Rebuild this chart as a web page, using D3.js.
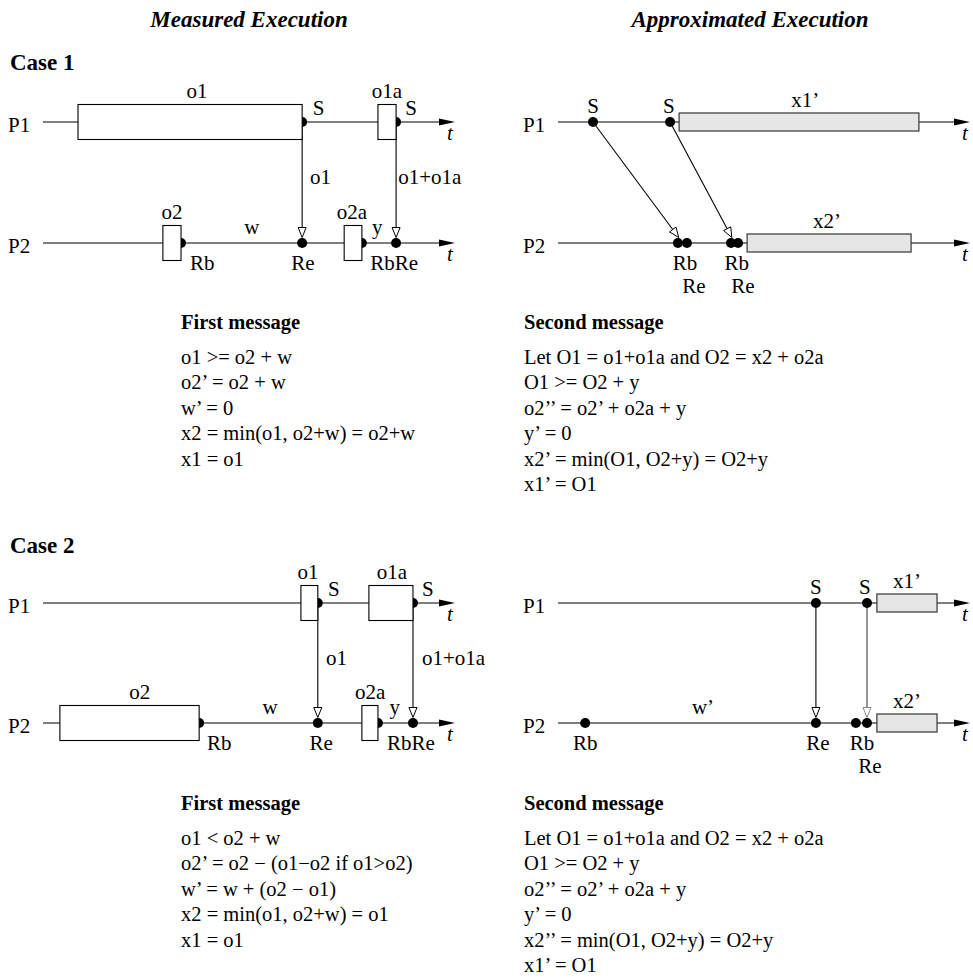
<!DOCTYPE html>
<html><head><meta charset="utf-8">
<script src="https://cdn.jsdelivr.net/npm/d3@7"></script>
<style>html,body{margin:0;padding:0;background:#fff;} svg{display:block;}</style>
</head><body>
<svg id="chart" width="973" height="978"></svg>
<script>
// ---------------- DATA ----------------
const processes = ["P1", "P2"];
const columnTitles = ["Measured Execution", "Approximated Execution"];
const caseTitles = ["Case 1", "Case 2"];

// operation blocks (time units 0..100 along each process axis)
const opBoxes = [
  {panel: "c1m", proc: "P1", start: 8.5,  end: 62.9},
  {panel: "c1m", proc: "P1", start: 81.3, end: 85.7},
  {panel: "c1m", proc: "P2", start: 29.1, end: 33.5},
  {panel: "c1m", proc: "P2", start: 73.1, end: 77.4},
  {panel: "c2m", proc: "P1", start: 62.6, end: 66.7},
  {panel: "c2m", proc: "P1", start: 79.1, end: 89.8},
  {panel: "c2m", proc: "P2", start: 4.1,  end: 37.9},
  {panel: "c2m", proc: "P2", start: 77.4, end: 81.3}
];
// computation blocks in the approximated execution
const computeBoxes = [
  {panel: "c1a", proc: "P1", start: 29.4, end: 87.6},
  {panel: "c1a", proc: "P2", start: 45.9, end: 85.7},
  {panel: "c2a", proc: "P1", start: 77.4, end: 92.0},
  {panel: "c2a", proc: "P2", start: 77.4, end: 92.0}
];
// send / receive events
const eventDots = [
  {panel: "c1m", proc: "P1", t: 62.9}, {panel: "c1m", proc: "P1", t: 85.7},
  {panel: "c1m", proc: "P2", t: 33.5}, {panel: "c1m", proc: "P2", t: 62.9},
  {panel: "c1m", proc: "P2", t: 77.4}, {panel: "c1m", proc: "P2", t: 85.7},
  {panel: "c1a", proc: "P1", t: 8.5},  {panel: "c1a", proc: "P1", t: 27.2},
  {panel: "c1a", proc: "P2", t: 29.1}, {panel: "c1a", proc: "P2", t: 31.3},
  {panel: "c1a", proc: "P2", t: 42.0}, {panel: "c1a", proc: "P2", t: 43.7},
  {panel: "c2m", proc: "P1", t: 66.7}, {panel: "c2m", proc: "P1", t: 89.8},
  {panel: "c2m", proc: "P2", t: 37.9}, {panel: "c2m", proc: "P2", t: 66.7},
  {panel: "c2m", proc: "P2", t: 81.3}, {panel: "c2m", proc: "P2", t: 89.8},
  {panel: "c2a", proc: "P1", t: 62.6}, {panel: "c2a", proc: "P1", t: 75.0},
  {panel: "c2a", proc: "P2", t: 6.6},  {panel: "c2a", proc: "P2", t: 62.6},
  {panel: "c2a", proc: "P2", t: 72.3}, {panel: "c2a", proc: "P2", t: 75.0}
];
// messages P1 -> P2 (send time, receive time)
const messages = [
  {panel: "c1m", from: 62.9, to: 62.9, tone: "black"},
  {panel: "c1m", from: 85.7, to: 85.7, tone: "black"},
  {panel: "c1a", from: 8.5,  to: 29.3, tone: "black"},
  {panel: "c1a", from: 27.2, to: 42.2, tone: "black"},
  {panel: "c2m", from: 66.7, to: 66.7, tone: "black"},
  {panel: "c2m", from: 89.8, to: 89.8, tone: "black"},
  {panel: "c2a", from: 62.6, to: 62.6, tone: "black"},
  {panel: "c2a", from: 75.0, to: 75.0, tone: "gray"}
];
// diagram labels: text, process, time anchor, placement kind
const labels = [
  // case 1 measured
  {panel: "c1m", proc: "P1", t: 37.4, text: "o1",     kind: "boxTop"},
  {panel: "c1m", proc: "P1", t: 83.5, text: "o1a",    kind: "boxTop"},
  {panel: "c1m", proc: "P1", t: 65.5, text: "S",      kind: "sAfter"},
  {panel: "c1m", proc: "P1", t: 87.9, text: "S",      kind: "sAfter"},
  {panel: "c1m", proc: "P1", t: 64.8, text: "o1",     kind: "msg"},
  {panel: "c1m", proc: "P1", t: 86.2, text: "o1+o1a", kind: "msg"},
  {panel: "c1m", proc: "P2", t: 31.3, text: "o2",     kind: "boxTop"},
  {panel: "c1m", proc: "P2", t: 75.0, text: "o2a",    kind: "boxTop"},
  {panel: "c1m", proc: "P2", t: 50.7, text: "w",      kind: "lineAbove"},
  {panel: "c1m", proc: "P2", t: 81.1, text: "y",      kind: "lineAbove"},
  {panel: "c1m", proc: "P2", t: 35.7, text: "Rb",     kind: "belowStart"},
  {panel: "c1m", proc: "P2", t: 63.1, text: "Re",     kind: "below"},
  {panel: "c1m", proc: "P2", t: 79.4, text: "RbRe",   kind: "belowStart"},
  // case 1 approximated
  {panel: "c1a", proc: "P1", t: 8.5,  text: "S",      kind: "sAbove"},
  {panel: "c1a", proc: "P1", t: 26.9, text: "S",      kind: "sAbove"},
  {panel: "c1a", proc: "P1", t: 60.0, text: "x1’",    kind: "compTop"},
  {panel: "c1a", proc: "P2", t: 65.3, text: "x2’",    kind: "compTop"},
  {panel: "c1a", proc: "P2", t: 30.8, text: "Rb",     kind: "below"},
  {panel: "c1a", proc: "P2", t: 33.0, text: "Re",     kind: "below2"},
  {panel: "c1a", proc: "P2", t: 43.4, text: "Rb",     kind: "below"},
  {panel: "c1a", proc: "P2", t: 44.9, text: "Re",     kind: "below2"},
  // case 2 measured
  {panel: "c2m", proc: "P1", t: 64.3, text: "o1",     kind: "boxTop"},
  {panel: "c2m", proc: "P1", t: 84.7, text: "o1a",    kind: "boxTop"},
  {panel: "c2m", proc: "P1", t: 69.2, text: "S",      kind: "sAfter"},
  {panel: "c2m", proc: "P1", t: 92.0, text: "S",      kind: "sAfter"},
  {panel: "c2m", proc: "P1", t: 68.7, text: "o1",     kind: "msg"},
  {panel: "c2m", proc: "P1", t: 92.0, text: "o1+o1a", kind: "msg"},
  {panel: "c2m", proc: "P2", t: 23.5, text: "o2",     kind: "boxTop"},
  {panel: "c2m", proc: "P2", t: 79.4, text: "o2a",    kind: "boxTop"},
  {panel: "c2m", proc: "P2", t: 55.1, text: "w",      kind: "lineAbove"},
  {panel: "c2m", proc: "P2", t: 85.4, text: "y",      kind: "lineAbove"},
  {panel: "c2m", proc: "P2", t: 39.8, text: "Rb",     kind: "belowStart"},
  {panel: "c2m", proc: "P2", t: 67.5, text: "Re",     kind: "below"},
  {panel: "c2m", proc: "P2", t: 83.5, text: "RbRe",   kind: "belowStart"},
  // case 2 approximated
  {panel: "c2a", proc: "P1", t: 62.6, text: "S",      kind: "sAbove"},
  {panel: "c2a", proc: "P1", t: 74.5, text: "S",      kind: "sAbove"},
  {panel: "c2a", proc: "P1", t: 84.7, text: "x1’",    kind: "compTop"},
  {panel: "c2a", proc: "P2", t: 84.7, text: "x2’",    kind: "compTop"},
  {panel: "c2a", proc: "P2", t: 35.2, text: "w’",     kind: "lineAbove"},
  {panel: "c2a", proc: "P2", t: 6.6,  text: "Rb",     kind: "below"},
  {panel: "c2a", proc: "P2", t: 63.1, text: "Re",     kind: "below"},
  {panel: "c2a", proc: "P2", t: 73.8, text: "Rb",     kind: "below"},
  {panel: "c2a", proc: "P2", t: 75.7, text: "Re",     kind: "below2"}
];

// explanation text blocks
const case1FirstTitle = "First message";
const case1First = ["o1 >= o2 + w", "o2’ = o2 + w", "w’ = 0", "x2 = min(o1, o2+w) = o2+w", "x1 = o1"];
const case1SecondTitle = "Second message";
const case1Second = ["Let O1 = o1+o1a and O2 = x2 + o2a", "O1 >= O2 + y", "o2’’ = o2’ + o2a + y", "y’ = 0", "x2’ = min(O1, O2+y) = O2+y", "x1’ = O1"];
const case2FirstTitle = "First message";
const case2First = ["o1 < o2 + w", "o2’ = o2 − (o1−o2 if o1>o2)", "w’ = w + (o2 − o1)", "x2 = min(o1, o2+w) = o1", "x1 = o1"];
const case2SecondTitle = "Second message";
const case2Second = ["Let O1 = o1+o1a and O2 = x2 + o2a", "O1 >= O2 + y", "o2’’ = o2’ + o2a + y", "y’ = 0", "x2’’ = min(O1, O2+y) = O2+y", "x1’ = O1"];

// ---------------- LAYOUT ----------------
const FONT = "'Liberation Serif','Times New Roman',Times,serif";
const panels = {
  c1m: {x: [43, 455],  y: [122, 243]},
  c1a: {x: [558, 970], y: [122, 243]},
  c2m: {x: [43, 455],  y: [603, 723]},
  c2a: {x: [558, 970], y: [603, 723]}
};
const xs = {}, ys = {};
Object.keys(panels).forEach(k => {
  xs[k] = d3.scaleLinear().domain([0, 100]).range(panels[k].x);
  ys[k] = d3.scalePoint().domain(processes).range(panels[k].y);
});

const svg = d3.select("#chart");
const gLines = svg.append("g"), gMsg = svg.append("g"), gDots = svg.append("g"),
      gBoxes = svg.append("g"), gHeads = svg.append("g"), gText = svg.append("g");

const OP_H = 35, COMP_H = 18, DOT_R = 5;

// process axes
Object.keys(panels).forEach(k => {
  const x = xs[k], y = ys[k];
  processes.forEach(p => {
    const x0 = x(0), x1 = x(100), yy = y(p);
    gLines.append("line").attr("x1", x0).attr("x2", x1 - 14).attr("y1", yy).attr("y2", yy)
      .attr("stroke", "#000").attr("stroke-width", 1.2);
    gHeads.append("path").attr("d", `M${x1},${yy} L${x1 - 16},${yy - 3.6} L${x1 - 16},${yy + 3.6} Z`)
      .attr("fill", "#000");
    gText.append("text").attr("x", x0 - 35).attr("y", yy + 10).text(p)
      .attr("font-family", FONT).attr("font-size", 21);
    gText.append("text").attr("x", x1 - 8).attr("y", yy + 18).text("t")
      .attr("font-family", FONT).attr("font-size", 21).attr("font-style", "italic");
  });
});

// messages
messages.forEach(m => {
  const x = xs[m.panel], y = ys[m.panel];
  const sx = x(m.from), sy = y("P1");
  const tx = x(m.to), ty = y("P2") - DOT_R - 0.5;
  const dx = tx - sx, dy = ty - sy, len = Math.hypot(dx, dy);
  const ux = dx / len, uy = dy / len;
  const L = 10, W = 4;
  const bx = tx - ux * L, by = ty - uy * L;
  const col = m.tone === "gray" ? "#888" : "#000";
  gMsg.append("line").attr("x1", sx).attr("y1", sy).attr("x2", bx).attr("y2", by)
    .attr("stroke", col).attr("stroke-width", m.tone === "gray" ? 1.8 : 1.1);
  gHeads.append("path")
    .attr("d", `M${tx},${ty} L${bx - uy * W},${by + ux * W} L${bx + uy * W},${by - ux * W} Z`)
    .attr("fill", "#fff").attr("stroke", col).attr("stroke-width", 1);
});

// dots
gDots.selectAll("circle").data(eventDots).join("circle")
  .attr("cx", d => xs[d.panel](d.t)).attr("cy", d => ys[d.panel](d.proc)).attr("r", DOT_R)
  .attr("fill", "#000");

// boxes
gBoxes.selectAll("rect.op").data(opBoxes).join("rect").attr("class", "op")
  .attr("x", d => xs[d.panel](d.start)).attr("width", d => xs[d.panel](d.end) - xs[d.panel](d.start))
  .attr("y", d => ys[d.panel](d.proc) - OP_H / 2).attr("height", OP_H)
  .attr("fill", "#fff").attr("stroke", "#000").attr("stroke-width", 1.1);
gBoxes.selectAll("rect.comp").data(computeBoxes).join("rect").attr("class", "comp")
  .attr("x", d => xs[d.panel](d.start)).attr("width", d => xs[d.panel](d.end) - xs[d.panel](d.start))
  .attr("y", d => ys[d.panel](d.proc) - COMP_H / 2).attr("height", COMP_H)
  .attr("fill", "#e6e6e6").attr("stroke", "#444").attr("stroke-width", 1.3);

// labels
const kinds = {
  boxTop:     {anchor: "middle", dy: -24.5},
  compTop:    {anchor: "middle", dy: -15},
  sAfter:     {anchor: "start",  dy: -7.5},
  sAbove:     {anchor: "middle", dy: -9},
  msg:        {anchor: "start",  dy: 61.5},
  lineAbove:  {anchor: "middle", dy: -9},
  belowStart: {anchor: "start",  dy: 27},
  below:      {anchor: "middle", dy: 27},
  below2:     {anchor: "middle", dy: 50}
};
gText.selectAll("text.lab").data(labels).join("text").attr("class", "lab")
  .attr("x", d => xs[d.panel](d.t)).attr("y", d => ys[d.panel](d.proc) + kinds[d.kind].dy)
  .attr("text-anchor", d => kinds[d.kind].anchor)
  .attr("font-family", FONT).attr("font-size", 21).text(d => d.text);

// column and case titles
gText.selectAll("text.col").data(columnTitles).join("text").attr("class", "col")
  .attr("x", (d, i) => [249, 750][i]).attr("y", 27).attr("text-anchor", "middle")
  .attr("font-family", FONT).attr("font-size", 23).attr("font-weight", "bold").attr("font-style", "italic")
  .text(d => d);
gText.selectAll("text.case").data(caseTitles).join("text").attr("class", "case")
  .attr("x", 10).attr("y", (d, i) => [70, 553][i])
  .attr("font-family", FONT).attr("font-size", 23).attr("font-weight", "bold")
  .text(d => d);

// text blocks
function block(x, y0, title, lines) {
  gText.append("text").attr("x", x).attr("y", y0).text(title)
    .attr("font-family", FONT).attr("font-size", 20.5).attr("font-weight", "bold");
  lines.forEach((s, i) => {
    gText.append("text").attr("x", x).attr("y", y0 + 34.5 + i * 25.5).text(s)
      .attr("font-family", FONT).attr("font-size", 20.5);
  });
}
block(181, 329, case1FirstTitle, case1First);
block(524, 329, case1SecondTitle, case1Second);
block(181, 810, case2FirstTitle, case2First);
block(524, 810, case2SecondTitle, case2Second);
</script>
</body></html>
